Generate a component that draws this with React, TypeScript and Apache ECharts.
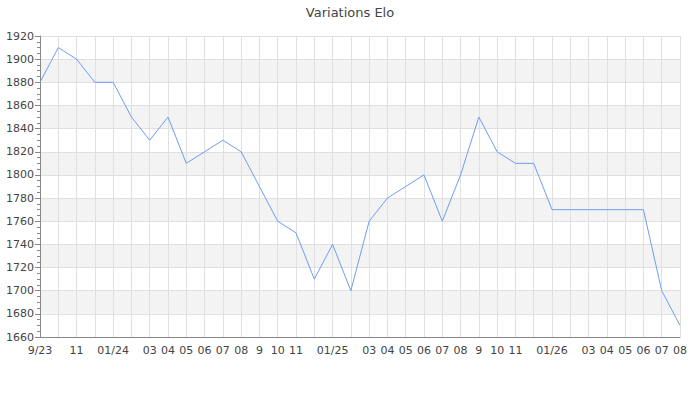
import React, { useEffect, useRef } from 'react';
import * as echarts from 'echarts';

// monthly points, Sep 2023 -> Aug 2026
const monthLabels = [
  '9/23', '10', '11', '12', '01/24', '02', '03', '04', '05', '06', '07', '08',
  '9', '10', '11', '12', '01/25', '02', '03', '04', '05', '06', '07', '08',
  '9', '10', '11', '12', '01/26', '02', '03', '04', '05', '06', '07', '08'
];
// labels the reference leaves out (they would overlap)
const hiddenLabels = [1, 3, 5, 15, 17, 27, 29];

const eloValues = [
  1880, 1910, 1900, 1880, 1880, 1850, 1830, 1850, 1810, 1820, 1830, 1820,
  1790, 1760, 1750, 1710, 1740, 1700, 1760, 1780, 1790, 1800, 1760, 1800,
  1850, 1820, 1810, 1810, 1770, 1770, 1770, 1770, 1770, 1770, 1700, 1670
];

const yMin = 1660;
const yMax = 1920;
const yStep = 20;

const App: React.FC = () => {
  const chartRef = useRef<HTMLDivElement | null>(null);

  useEffect(() => {
    if (!chartRef.current) return;
    const chart = echarts.init(chartRef.current, undefined, { renderer: 'svg' });

    const font = 'DejaVu Sans';

    const option: echarts.EChartsOption = {
      animation: false,
      title: {
        text: 'Variations Elo',
        left: 'center',
        top: 1,
        textStyle: { fontFamily: font, fontSize: 13, fontWeight: 'normal', color: '#444' }
      },
      grid: { left: 40, right: 20, top: 36, bottom: 63 },
      xAxis: {
        type: 'category',
        boundaryGap: false,
        data: monthLabels,
        axisLine: { lineStyle: { color: '#888' } },
        axisTick: { show: false },
        axisLabel: {
          interval: 0,
          fontFamily: font,
          fontSize: 11,
          color: '#444',
          margin: 8,
          formatter: (value: string, index: number) => (hiddenLabels.includes(index) ? '' : value)
        },
        splitLine: { show: true, interval: 0, lineStyle: { color: '#e0e0e0' } }
      },
      yAxis: {
        type: 'value',
        min: yMin,
        max: yMax,
        interval: yStep,
        axisLine: { show: true, lineStyle: { color: '#888' } },
        axisTick: { show: true, length: 5, lineStyle: { color: '#888' } },
        minorTick: { show: true, splitNumber: 4, length: 3, lineStyle: { color: '#888' } },
        axisLabel: {
          fontFamily: font,
          fontSize: 11,
          color: '#444',
          margin: 6,
          formatter: (v: number) => String(v)
        },
        splitLine: { show: true, lineStyle: { color: '#e0e0e0' } },
        splitArea: { show: true, areaStyle: { color: ['#ffffff', '#f3f3f3'] } }
      },
      series: [
        {
          type: 'line',
          data: eloValues,
          showSymbol: false,
          lineStyle: { color: '#6f9cf0', width: 1 },
          itemStyle: { color: '#6f9cf0' }
        }
      ]
    };

    chart.setOption(option);

    return () => {
      chart.dispose();
    };
  }, []);

  return (
    <div
      ref={chartRef}
      style={{ position: 'fixed', left: 0, top: 0, width: '700px', height: '400px', background: '#fff' }}
    />
  );
};

export default App;
